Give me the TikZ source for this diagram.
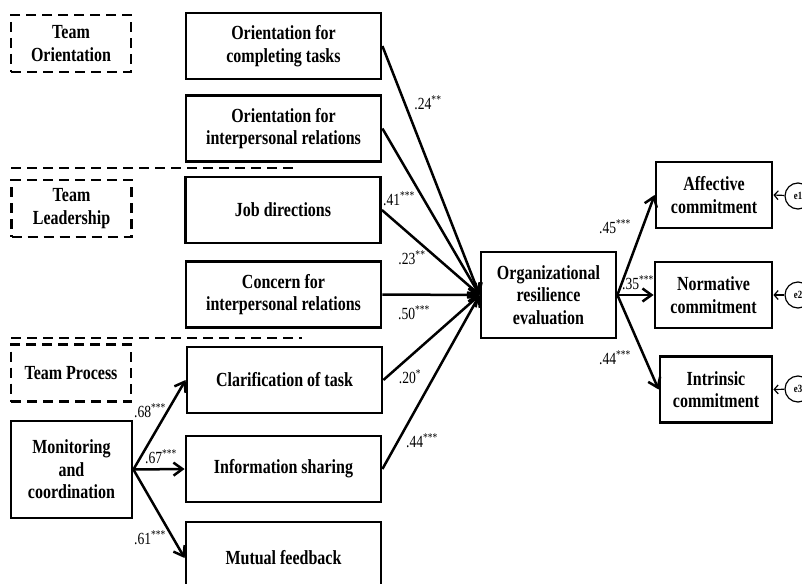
\documentclass[tikz,border=0pt]{standalone}
\usepackage{fontspec}
\setmainfont{Liberation Serif}[FakeStretch=0.8]
\usetikzlibrary{arrows.meta}
\begin{document}
\begin{tikzpicture}[x=1pt,y=-1pt,
  box/.style={draw,line width=2.8pt,minimum width=195pt,minimum height=66pt,
    align=center,inner sep=0pt,font=\bfseries\fontsize{20}{22.5}\selectfont},
  grp/.style={draw,line width=2.4pt,dash pattern=on 10pt off 6pt,minimum width=120pt,
    minimum height=57pt,align=center,inner sep=0pt,font=\bfseries\fontsize{20}{22.5}\selectfont},
  sepline/.style={line width=2.4pt,dash pattern=on 10pt off 6pt},
  conn/.style={line width=2.5pt,-{Straight Barb[length=9pt,width=13pt]}},
  lbl/.style={inner sep=0pt,font=\fontsize{17}{20}\selectfont},
  err/.style={draw,circle,line width=1.2pt,minimum size=26pt,inner sep=0pt,
    font=\bfseries\fontsize{11}{12}\selectfont},
  earr/.style={line width=1.2pt,-{Straight Barb[length=4pt,width=9pt]}}]
\useasboundingbox (0,0) rectangle (802,583);
\clip (0,0) rectangle (802,583);
% group labels
\node[grp] (g1) at (71,43.5) {Team\\Orientation};
\node[grp] (g2) at (71.5,208.5) {Team\\Leadership};
\node[grp] (g3) at (71,373) {Team Process};
% separators
\coordinate (s1a) at (11,168); \coordinate (s1b) at (295,168);
\coordinate (s2a) at (11,338); \coordinate (s2b) at (302,338);
\draw[sepline] (s1a) -- (s1b);
\draw[sepline] (s2a) -- (s2b);
% boxes
\node[box] (t1) at (283.5,46) {Orientation for\\completing tasks};
\node[box] (t2) at (283.5,128.5) {Orientation for\\interpersonal relations};
\node[box] (t3) at (283,210) {Job directions};
\node[box] (t4) at (283.5,294.5) {Concern for\\interpersonal relations};
\node[box] (t5) at (284.5,380) {Clarification of task};
\node[box] (t6) at (283.5,469) {Information sharing};
\node[box,minimum height=72pt] (t7) at (283.5,558) {Mutual feedback};
\node[box,minimum width=121pt,minimum height=97pt] (mon) at (71.5,469.5) {Monitoring\\and\\coordination};
\node[box,minimum width=135pt,minimum height=86pt] (org) at (548.5,295) {Organizational\\resilience\\evaluation};
\node[box,minimum width=116pt] (aff) at (714,195) {Affective\\commitment};
\node[box,minimum width=117pt] (nor) at (713.5,295) {Normative\\commitment};
\node[box,minimum width=112pt] (intr) at (716,389.5) {Intrinsic\\commitment};
\node[err] (e1) at (798,196) {e1};
\node[err] (e2) at (798,295) {e2};
\node[err] (e3) at (798,389) {e3};
% connectors
\draw[conn] (mon.east) -- (t5.west);
\draw[conn] (mon.east) -- (t6.west);
\draw[conn] (mon.east) -- (t7.west);
\foreach \n in {t1,t2,t3,t4,t5,t6} \draw[conn] (\n.east) -- (org.west);
\draw[conn] (org.east) -- (aff.west);
\draw[conn] (org.east) -- (nor.west);
\draw[conn] (org.east) -- (intr.west);
\draw[earr] (e1) -- (aff.east);
\draw[earr] (e2) -- (nor.east);
\draw[earr] (e3) -- (intr.east);
% labels
\node[lbl] (l1) at (428,103) {.24\textsuperscript{**}};
\node[lbl] (l2) at (399,199) {.41\textsuperscript{***}};
\node[lbl] (l3) at (412,258) {.23\textsuperscript{**}};
\node[lbl] (l4) at (414,313) {.50\textsuperscript{***}};
\node[lbl] (l5) at (410,377) {.20\textsuperscript{*}};
\node[lbl] (l6) at (422,441) {.44\textsuperscript{***}};
\node[lbl] (l7) at (615,227) {.45\textsuperscript{***}};
\node[lbl] (l8) at (638,283) {.35\textsuperscript{***}};
\node[lbl] (l9) at (615,358) {.44\textsuperscript{***}};
\node[lbl] (l10) at (150,411) {.68\textsuperscript{***}};
\node[lbl] (l11) at (161,457) {.67\textsuperscript{***}};
\node[lbl] (l12) at (150,538) {.61\textsuperscript{***}};
\end{tikzpicture}
\end{document}
